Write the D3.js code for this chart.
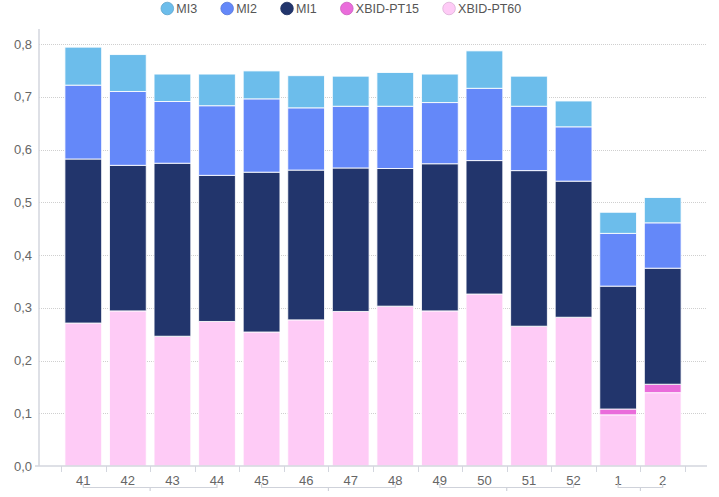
<!DOCTYPE html>
<html>
<head>
<meta charset="utf-8">
<script src="https://cdn.jsdelivr.net/npm/d3@7"></script>
<style>
    body { margin: 0; background: #fff; }
    svg { display: block; font-family: "Liberation Sans", Arial, sans-serif; }
</style>
</head>
<body>
<div id="chart-container"></div>
<script>
// Week categories and the month groups they belong to
const weeks = ["41", "42", "43", "44", "45", "46", "47", "48", "49", "50", "51", "52", "1", "2"];
const weekGroups = [["41", "44"], ["45", "48"], ["49", "52"], ["1", "2"]];

// Series values per week (stacked bottom to top)
const seriesNames = ["XBID-PT60", "XBID-PT15", "MI1", "MI2", "MI3"];
const pt60 = [0.271, 0.294, 0.246, 0.274, 0.254, 0.277, 0.293, 0.303, 0.294, 0.326, 0.265, 0.282, 0.097, 0.139];
const pt15 = [0, 0, 0, 0, 0, 0, 0, 0, 0, 0, 0, 0, 0.011, 0.016];
const mi1  = [0.311, 0.276, 0.328, 0.277, 0.303, 0.284, 0.272, 0.261, 0.279, 0.253, 0.295, 0.258, 0.233, 0.220];
const mi2  = [0.140, 0.140, 0.117, 0.132, 0.139, 0.118, 0.117, 0.118, 0.116, 0.137, 0.122, 0.103, 0.100, 0.086];
const mi3  = [0.072, 0.070, 0.052, 0.060, 0.053, 0.061, 0.057, 0.064, 0.054, 0.071, 0.057, 0.049, 0.040, 0.048];
const yTicks = [0, 0.1, 0.2, 0.3, 0.4, 0.5, 0.6, 0.7, 0.8];

// Legend order is the reverse of the stack
const legendNames = ["MI3", "MI2", "MI1", "XBID-PT15", "XBID-PT60"];

function drawChart() {
    const width = 719;
    const height = 497;
    const plot = {left: 39, right: 707, top: 29, bottom: 466};

    const colors = {
        "MI3": "#6cbdeb",
        "MI2": "#6488f9",
        "MI1": "#22356c",
        "XBID-PT15": "#ea6cdb",
        "XBID-PT60": "#fecbf6"
    };

    const table = weeks.map((w, i) => ({
        week: w,
        "XBID-PT60": pt60[i],
        "XBID-PT15": pt15[i],
        "MI1": mi1[i],
        "MI2": mi2[i],
        "MI3": mi3[i]
    }));

    const x = d3.scaleBand()
        .domain(weeks)
        .range([61, 685])
        .paddingInner(0.175)
        .paddingOuter(0.0875);

    const y = d3.scaleLinear()
        .domain([0, 0.8])
        .range([plot.bottom, 44]);

    const svg = d3.select("#chart-container")
        .append("svg")
            .attr("width", width)
            .attr("height", height);

    // Dotted grid lines
    svg.append("g")
        .selectAll("line")
        .data(yTicks.filter(d => d > 0))
        .join("line")
            .attr("x1", plot.left)
            .attr("x2", plot.right)
            .attr("y1", d => Math.round(y(d)) + 0.5)
            .attr("y2", d => Math.round(y(d)) + 0.5)
            .attr("stroke", "#cfcfcf")
            .attr("stroke-width", 1)
            .attr("stroke-dasharray", "1,1");

    // Stacked bars
    const stack = d3.stack().keys(seriesNames)(table);

    svg.append("g")
        .selectAll("g")
        .data(stack)
        .join("g")
            .attr("fill", d => colors[d.key])
        .selectAll("rect")
        .data(d => d.filter(s => s[1] - s[0] > 0))
        .join("rect")
            .attr("x", d => x(d.data.week))
            .attr("width", x.bandwidth())
            .attr("y", d => y(d[1]))
            .attr("height", d => y(d[0]) - y(d[1]))
            .attr("stroke", "#fff")
            .attr("stroke-opacity", 0.85)
            .attr("stroke-width", 1);

    // Y axis
    svg.append("line")
        .attr("x1", plot.left).attr("x2", plot.left)
        .attr("y1", plot.top).attr("y2", plot.bottom)
        .attr("stroke", "#d3d6de")
        .attr("stroke-width", 1.5);

    svg.append("g")
        .selectAll("text")
        .data(yTicks)
        .join("text")
            .attr("x", 32)
            .attr("y", d => y(d))
            .attr("dy", "0.35em")
            .attr("text-anchor", "end")
            .attr("fill", "#666")
            .style("font-size", "13px")
            .text(d => d3.format(".1f")(d).replace(".", ","));

    // X axis line and ticks at band edges
    svg.append("line")
        .attr("x1", 35).attr("x2", plot.right)
        .attr("y1", plot.bottom).attr("y2", plot.bottom)
        .attr("stroke", "#d3d6de")
        .attr("stroke-width", 1.5);

    const step = x.step();
    const edges = weeks.map(w => x(w) - (step - x.bandwidth()) / 2).concat([685]);
    svg.append("g")
        .selectAll("line")
        .data(edges)
        .join("line")
            .attr("x1", d => Math.round(d) + 0.5)
            .attr("x2", d => Math.round(d) + 0.5)
            .attr("y1", plot.bottom)
            .attr("y2", plot.bottom + 6)
            .attr("stroke", "#d3d6de")
            .attr("stroke-width", 1);

    const center = w => x(w) + x.bandwidth() / 2;

    svg.append("g")
        .selectAll("text")
        .data(weeks)
        .join("text")
            .attr("x", d => center(d))
            .attr("y", 485)
            .attr("text-anchor", "middle")
            .attr("fill", "#666")
            .style("font-size", "13px")
            .text(d => d);

    // Month group brackets under the week labels
    const bracket = svg.append("g")
        .attr("fill", "none")
        .attr("stroke", "#cfd2da")
        .attr("stroke-width", 1.2);

    weekGroups.forEach(([a, b]) => {
        const x0 = center(a), x1 = center(b), mid = (x0 + x1) / 2;
        bracket.append("path")
            .attr("d", `M${x0},484 V487.5 H${x1} V484`);
        bracket.append("line")
            .attr("x1", mid).attr("x2", mid)
            .attr("y1", 487.5).attr("y2", 491);
    });

    // Legend
    const legend = svg.append("g");
    let lx = 167.3;
    legendNames.forEach(name => {
        legend.append("circle")
            .attr("cx", lx)
            .attr("cy", 8.5)
            .attr("r", 6.3)
            .attr("fill", colors[name])
            .attr("stroke", d3.color(colors[name]).darker(0.4))
            .attr("stroke-width", 0.8);
        const t = legend.append("text")
            .attr("x", lx + 9)
            .attr("y", 13)
            .attr("fill", "#555")
            .style("font-size", "12.5px")
            .text(name);
        lx += 9 + t.node().getComputedTextLength() + 30;
    });
}

drawChart();
</script>
</body>
</html>
